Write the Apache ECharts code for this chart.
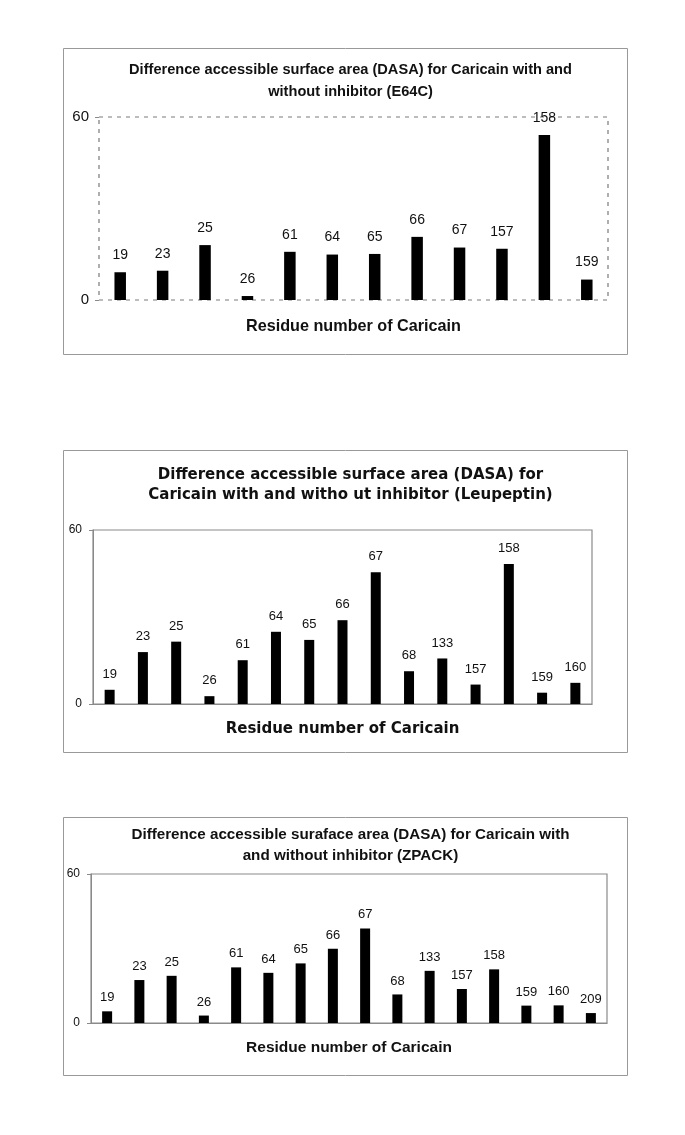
<!DOCTYPE html>
<html>
<head>
<meta charset="utf-8">
<script src="https://cdn.jsdelivr.net/npm/echarts@6/dist/echarts.min.js"></script>
<style>
html,body{margin:0;padding:0;background:#fff;}
#chart{width:685px;height:1135px;}
</style>
</head>
<body>
<div id="chart"></div>
<script>
// ---- Data ----
const cats1 = ['19','23','25','26','61','64','65','66','67','157','158','159'];
const vals1 = [9.1, 9.6, 18.0, 1.3, 15.8, 14.9, 15.1, 20.7, 17.2, 16.8, 54.1, 6.7];

const cats2 = ['19','23','25','26','61','64','65','66','67','68','133','157','158','159','160'];
const vals2 = [4.9, 17.9, 21.5, 2.7, 15.1, 24.9, 22.1, 28.9, 45.4, 11.3, 15.7, 6.7, 48.3, 3.9, 7.3];

const cats3 = ['19','23','25','26','61','64','65','66','67','68','133','157','158','159','160','209'];
const vals3 = [4.7, 17.3, 19.0, 3.0, 22.4, 20.2, 24.0, 29.9, 38.1, 11.5, 21.0, 13.7, 21.6, 7.0, 7.1, 4.0];

const yMin = 0, yMax = 60, yInterval = 60;

const title1 = 'Difference accessible surface area (DASA) for Caricain with and\nwithout inhibitor (E64C)';
const title2 = 'Difference accessible surface area (DASA) for\nCaricain with and witho ut inhibitor (Leupeptin)';
const title3 = 'Difference accessible suraface area (DASA) for Caricain with\nand without inhibitor (ZPACK)';
const xName = 'Residue number of Caricain';

// ---- Chart ----
const chart = echarts.init(document.getElementById('chart'), null, {renderer:'canvas'});
const FONT = 'Liberation Sans, Arial, sans-serif';
const DV = 'DejaVu Sans, sans-serif';
const GREY = '#8a8a8a';

function yAxisCfg(gi, fs, dashed){
  return {
    type:'value', gridIndex:gi, min:yMin, max:yMax, interval:yInterval,
    axisLine:{show:!dashed, lineStyle:{color:GREY}},
    axisTick:{show:true, length:4, inside:false, lineStyle:{color:GREY}},
    axisLabel:{color:'#111', fontSize:fs, fontFamily:FONT, margin:dashed?10:11},
    splitLine:{show:false}
  };
}
function xAxisCfg(gi, cats, nameFs, nameFont, gap, dashed){
  return {
    type:'category', gridIndex:gi, data:cats,
    axisLine:{show:!dashed, lineStyle:{color:GREY}},
    axisTick:{show:false}, axisLabel:{show:false},
    name:xName, nameLocation:'middle', nameGap:gap,
    nameTextStyle:{color:'#111', fontSize:nameFs, fontWeight:'bold', fontFamily:nameFont}
  };
}
function barSeries(i, vals, bw, fs, dist){
  return {
    type:'bar', xAxisIndex:i, yAxisIndex:i, data:vals, barWidth:bw,
    itemStyle:{color:'#000'},
    label:{show:true, position:'top', distance:dist, formatter:'{b}', color:'#111', fontSize:fs, fontFamily:FONT},
    silent:true, animation:false
  };
}

const option = {
  animation:false,
  backgroundColor:'#fff',
  graphic:[
    {type:'rect', shape:{x:63.5,y:48.5,width:564,height:306}, style:{fill:'none', stroke:'#999', lineWidth:1}, silent:true},
    {type:'rect', shape:{x:63.5,y:450.5,width:564,height:302}, style:{fill:'none', stroke:'#999', lineWidth:1}, silent:true},
    {type:'rect', shape:{x:63.5,y:817.5,width:564,height:258}, style:{fill:'none', stroke:'#999', lineWidth:1}, silent:true}
  ],
  title:[
    {text:title1, left:345.5, top:54, textAlign:'center',
     textStyle:{fontSize:14.6, fontWeight:'bold', color:'#111', fontFamily:FONT, lineHeight:22}},
    {text:title2, left:345.5, top:460, textAlign:'center',
     textStyle:{fontSize:15, fontWeight:'bold', color:'#111', fontFamily:DV, lineHeight:20}},
    {text:title3, left:345.5, top:819, textAlign:'center',
     textStyle:{fontSize:15.2, fontWeight:'bold', color:'#111', fontFamily:FONT, lineHeight:21}}
  ],
  grid:[
    {left:99, right:685-608, top:117, height:183, show:true, borderColor:'#7a7a7a', borderWidth:1.2, borderType:[4,5]},
    {left:93, right:685-592, top:530, height:174, show:true, borderColor:GREY, borderWidth:1.2},
    {left:91, right:685-607, top:874, height:149, show:true, borderColor:GREY, borderWidth:1.2}
  ],
  xAxis:[
    xAxisCfg(0, cats1, 16.2, FONT, 19, true),
    xAxisCfg(1, cats2, 15, DV, 18, false),
    xAxisCfg(2, cats3, 15.5, FONT, 17, false)
  ],
  yAxis:[
    yAxisCfg(0, 15, true),
    yAxisCfg(1, 12, false),
    yAxisCfg(2, 12, false)
  ],
  series:[
    barSeries(0, vals1, 11.5, 14, 10),
    barSeries(1, vals2, 10, 13, 9),
    barSeries(2, vals3, 10, 13, 7)
  ]
};
chart.setOption(option);
</script>
</body>
</html>
